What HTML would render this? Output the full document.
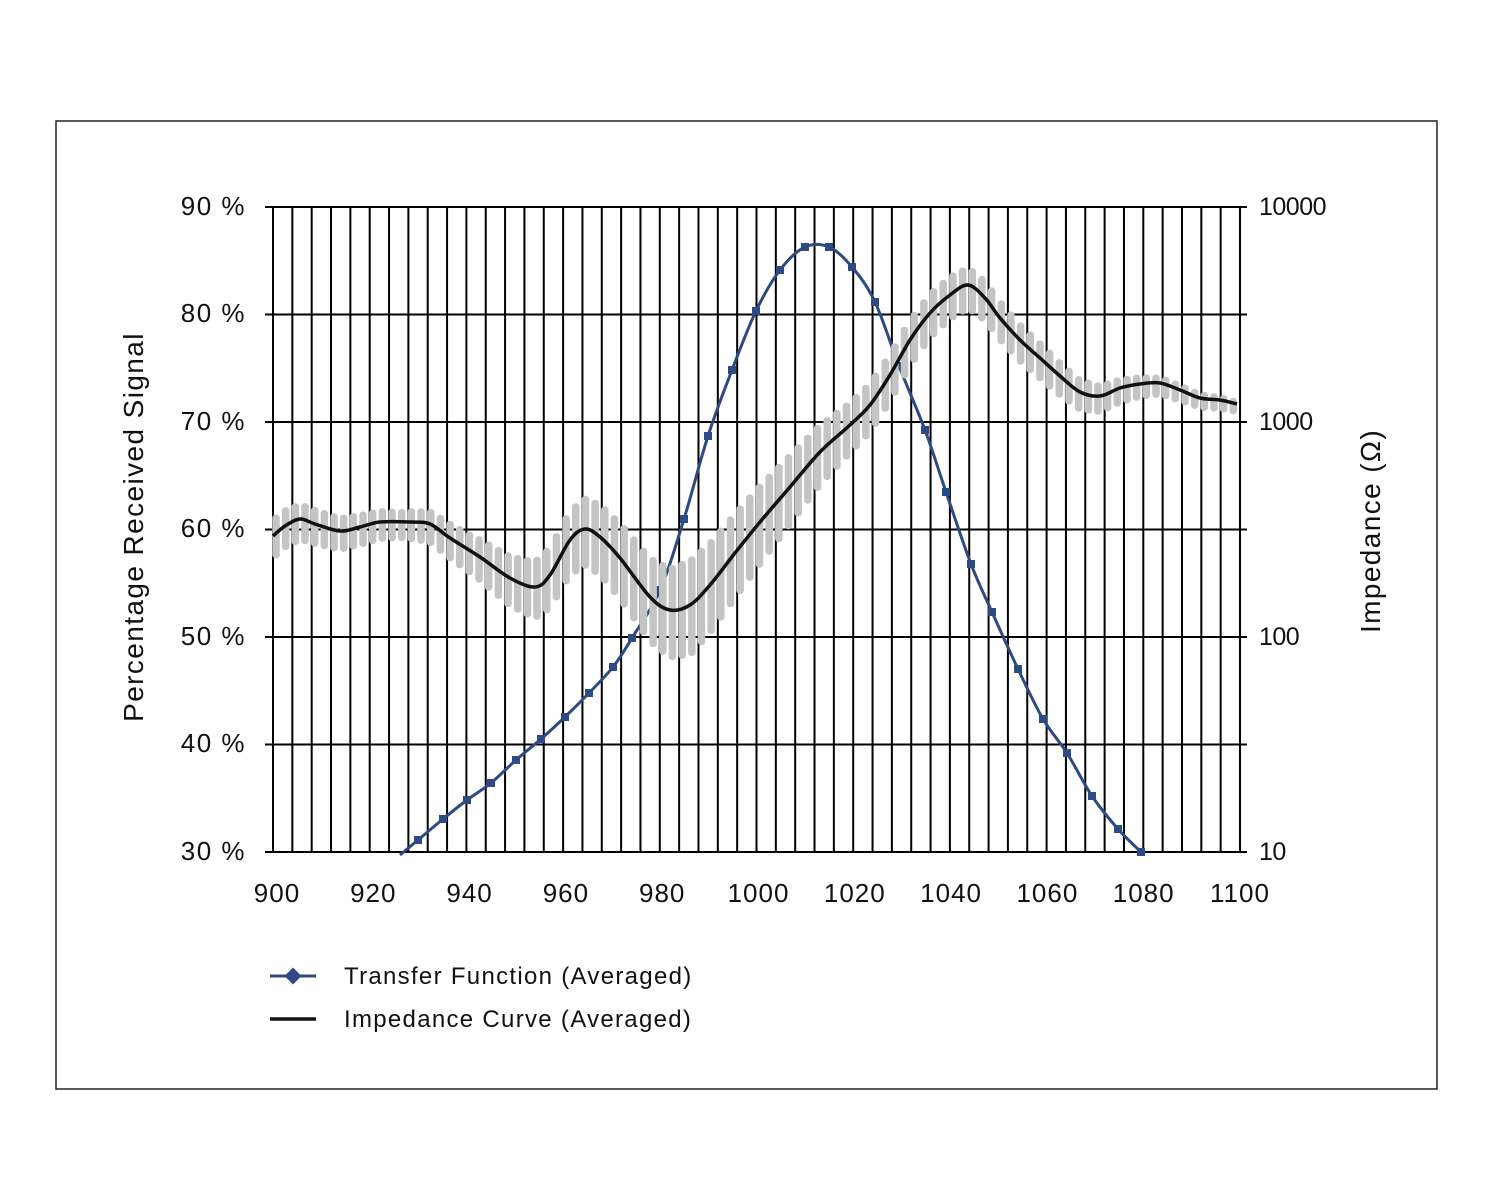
<!DOCTYPE html>
<html><head><meta charset="utf-8"><style>
body{margin:0;background:#fff}
svg{display:block;font-family:"Liberation Sans",sans-serif}
</style></head><body>
<svg id="s" width="1500" height="1200" xmlns="http://www.w3.org/2000/svg">
<rect x="56" y="121" width="1381" height="968" fill="#fff" stroke="#222" stroke-width="1.5"/>
<g id="grid" stroke="#000" stroke-width="2"></g>
<g id="blue"></g>
<g id="gray" fill="#c4c4c4"></g>
<path id="blk" fill="none" stroke="#111" stroke-width="3.5"/>
<g font-size="26" fill="#111" text-anchor="end" letter-spacing="1.5">
<text x="246" y="215">90 %</text><text x="246" y="322">80 %</text><text x="246" y="430">70 %</text>
<text x="246" y="537">60 %</text><text x="246" y="645">50 %</text><text x="246" y="752">40 %</text><text x="246" y="860">30 %</text>
</g>
<g font-size="25" fill="#111" letter-spacing="-0.5">
<text x="1259" y="215">10000</text><text x="1259" y="430">1000</text><text x="1259" y="645">100</text><text x="1259" y="860">10</text>
</g>
<g id="xl" font-size="26" fill="#111" text-anchor="middle" letter-spacing="1"></g>
<text transform="translate(143,527) rotate(-90)" font-size="28" text-anchor="middle" fill="#111" letter-spacing="1.4">Percentage Received Signal</text>
<text transform="translate(1380,531) rotate(-90)" font-size="28" text-anchor="middle" fill="#111" letter-spacing="1.4">Impedance (Ω)</text>
<line x1="270" y1="976" x2="316" y2="976" stroke="#2e4a84" stroke-width="3"/>
<rect x="287" y="970" width="12" height="12" fill="#2e4a84" transform="rotate(45 293 976)"/>
<text x="344" y="984" font-size="24" fill="#111" letter-spacing="1.3">Transfer Function (Averaged)</text>
<line x1="270" y1="1019" x2="316" y2="1019" stroke="#111" stroke-width="3.5"/>
<text x="344" y="1027" font-size="24" fill="#111" letter-spacing="1.3">Impedance Curve (Averaged)</text>
</svg>
<script>
var NS="http://www.w3.org/2000/svg";
function el(t,a,p){var e=document.createElementNS(NS,t);for(var k in a)e.setAttribute(k,a[k]);p.appendChild(e);return e;}
var g=document.getElementById('grid');
for(var i=0;i<=50;i++){var x=273+i*19.34;el('line',{x1:x,y1:207,x2:x,y2:852},g);}
for(var j=0;j<=6;j++){var y=207+j*107.5;el('line',{x1:265,y1:y,x2:1247,y2:y},g);}
var xl=document.getElementById('xl');
for(var v=900;v<=1100;v+=20){var t=el('text',{x:277+(v-900)*4.815,y:902},xl);t.textContent=v;}
function cr(p){var d="M"+p[0][0]+","+p[0][1];for(var i=0;i<p.length-1;i++){var p0=p[i-1]||p[i],p1=p[i],p2=p[i+1],p3=p[i+2]||p2;
d+=" C"+(p1[0]+(p2[0]-p0[0])/6)+","+(p1[1]+(p2[1]-p0[1])/6)+" "+(p2[0]-(p3[0]-p1[0])/6)+","+(p2[1]-(p3[1]-p1[1])/6)+" "+p2[0]+","+p2[1];}return d;}
var bp=[[400,855],[418,840],[443,819],[467,800],[491,783],[516,760],[541,739],[565,717],[589,693],[613,667],[632,638],[660,590],[684,519],[708,436],[732,370],[756,311],[780,270],[805,247],[829,247],[852,267],[875,302],[899,366],[925,430],[946,492],[971,564],[992,612],[1018,669],[1043,719],[1067,753],[1092,796],[1118,829],[1141,852]];
var B=document.getElementById('blue');
el('path',{d:cr(bp),fill:'none',stroke:'#2e4a84','stroke-width':3},B);
for(var i=1;i<bp.length;i++)el('rect',{x:bp[i][0]-4,y:bp[i][1]-4,width:8,height:8,fill:'#2e4a84'},B);
var kp=[[273,536],[285,526],[300,519],[315,524],[340,531],[360,527],[380,522],[410,522],[430,524],[450,538],[480,557],[510,578],[535,587],[550,575],[570,540],[585,529],[600,537],[620,558],[650,597],[670,610],[690,605],[710,585],[735,553],[760,522],[790,487],[820,452],[850,425],[870,405],[890,375],[910,340],[930,313],[950,295],[968,285],[985,298],[1000,318],[1020,340],[1040,358],[1060,376],[1080,392],[1100,396],[1120,388],[1140,384],[1160,383],[1180,390],[1200,398],[1220,400],[1237,404]];
document.getElementById('blk').setAttribute('d',cr(kp));
function interp(a,x){for(var i=0;i<a.length-1;i++){if(x<=a[i+1][0]){var f=(x-a[i][0])/(a[i+1][0]-a[i][0]);return a[i][1]+f*(a[i+1][1]-a[i][1]);}}return a[a.length-1][1];}
var amp=[[273,22],[400,16],[470,22],[540,32],[600,38],[690,50],[760,42],[850,28],[950,24],[1050,20],[1150,12],[1240,8]];
var G=document.getElementById('gray');
for(var x=276;x<=1238;x+=9.67){var c=interp(kp,x)+3,a=interp(amp,x);el('rect',{x:x-3.75,y:c-a,width:7.5,height:2*a,rx:3.5},G);}
</script>
</body></html>
